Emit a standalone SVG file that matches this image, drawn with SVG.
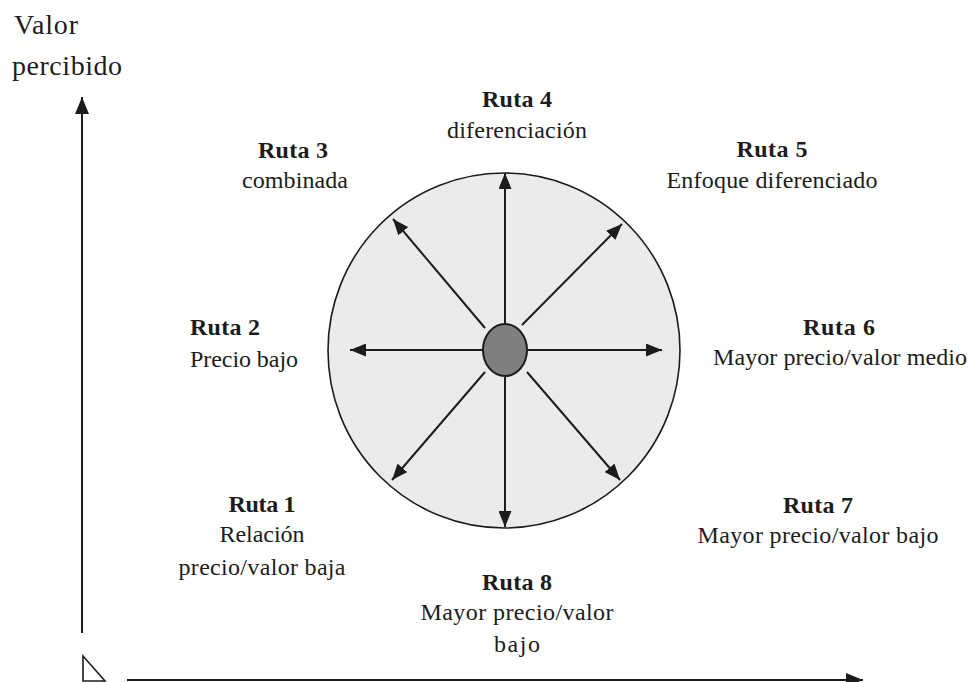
<svg xmlns="http://www.w3.org/2000/svg" width="972" height="682" viewBox="0 0 972 682">
  <style>
    text { font-family: "Liberation Serif", "Times New Roman", "DejaVu Serif", serif; font-size: 24px; fill: #1c1c1c; }
    .axisLabel { font-size: 28px; }
    .title { font-weight: bold; }
    .mid { text-anchor: middle; }
    .ray { stroke: #1c1c1c; stroke-width: 2; fill: none; marker-end: url(#head); }
    .axis { stroke: #1c1c1c; stroke-width: 2; fill: none; }
  </style>
  <defs>
    <marker id="head" markerUnits="userSpaceOnUse" markerWidth="17" markerHeight="13" refX="16" refY="6.5" orient="auto">
      <path d="M0,0 L16,6.5 L0,13 Z" fill="#1c1c1c"/>
    </marker>
    <marker id="axisHead" markerUnits="userSpaceOnUse" markerWidth="18" markerHeight="14" refX="17" refY="7" orient="auto">
      <path d="M0,0 L17,7 L0,14 Z" fill="#1c1c1c"/>
    </marker>
  </defs>

  <rect width="972" height="682" fill="#ffffff"/>

  <!-- axes -->
  <g id="axes">
    <text class="axisLabel" x="14" y="34" textLength="64" lengthAdjust="spacing">Valor</text>
    <text class="axisLabel" x="12" y="75" textLength="110" lengthAdjust="spacing">percibido</text>
    <line class="axis" x1="82" y1="633" x2="82" y2="97" marker-end="url(#axisHead)"/>
    <line class="axis" x1="127" y1="680" x2="863" y2="680" marker-end="url(#axisHead)"/>
    <path d="M83,656 L83,681 L105,681 Z" fill="none" stroke="#1c1c1c" stroke-width="1.6"/>
  </g>

  <!-- central disc -->
  <g id="disc">
    <ellipse cx="504" cy="350.5" rx="176" ry="177.5" fill="#ebebeb" stroke="#1c1c1c" stroke-width="1.6"/>
  </g>

  <!-- routes radiating from the hub -->
  <g id="connectors">
    <line class="ray" x1="505" y1="324" x2="505" y2="173"/>
    <line class="ray" x1="485" y1="328" x2="393" y2="219"/>
    <line class="ray" x1="522" y1="325" x2="622" y2="224"/>
    <line class="ray" x1="483" y1="350" x2="350" y2="350"/>
    <line class="ray" x1="527" y1="350" x2="662" y2="350"/>
    <line class="ray" x1="485" y1="372" x2="392" y2="480"/>
    <line class="ray" x1="527" y1="372" x2="620" y2="480"/>
    <line class="ray" x1="505" y1="376" x2="505" y2="527"/>
  </g>

  <g id="hub">
    <ellipse cx="505" cy="350" rx="22" ry="26" fill="#7f7f7f" stroke="#1c1c1c" stroke-width="2"/>
  </g>

  <!-- route labels -->
  <g id="ruta1">
    <text class="title mid" x="262" y="512" textLength="67" lengthAdjust="spacing">Ruta 1</text>
    <text class="mid" x="262" y="542" textLength="85" lengthAdjust="spacing">Relación</text>
    <text class="mid" x="262" y="575" textLength="167" lengthAdjust="spacing">precio/valor baja</text>
  </g>
  <g id="ruta2">
    <text class="title" x="190" y="335" textLength="70" lengthAdjust="spacing">Ruta 2</text>
    <text x="190" y="367" textLength="108" lengthAdjust="spacing">Precio bajo</text>
  </g>
  <g id="ruta3">
    <text class="title mid" x="293" y="158" textLength="70" lengthAdjust="spacing">Ruta 3</text>
    <text class="mid" x="295" y="188" textLength="106" lengthAdjust="spacing">combinada</text>
  </g>
  <g id="ruta4">
    <text class="title mid" x="517" y="107" textLength="70" lengthAdjust="spacing">Ruta 4</text>
    <text class="mid" x="517" y="138" textLength="140" lengthAdjust="spacing">diferenciación</text>
  </g>
  <g id="ruta5">
    <text class="title mid" x="772" y="157" textLength="71" lengthAdjust="spacing">Ruta 5</text>
    <text class="mid" x="772" y="188" textLength="211" lengthAdjust="spacing">Enfoque diferenciado</text>
  </g>
  <g id="ruta6">
    <text class="title mid" x="839" y="335" textLength="72" lengthAdjust="spacing">Ruta 6</text>
    <text class="mid" x="840" y="365" textLength="254" lengthAdjust="spacing">Mayor precio/valor medio</text>
  </g>
  <g id="ruta7">
    <text class="title mid" x="818" y="513" textLength="70" lengthAdjust="spacing">Ruta 7</text>
    <text class="mid" x="818" y="543" textLength="241" lengthAdjust="spacing">Mayor precio/valor bajo</text>
  </g>
  <g id="ruta8">
    <text class="title mid" x="517" y="590" textLength="70" lengthAdjust="spacing">Ruta 8</text>
    <text class="mid" x="517" y="620" textLength="193" lengthAdjust="spacing">Mayor precio/valor</text>
    <text class="mid" x="517" y="652" textLength="46" lengthAdjust="spacing">bajo</text>
  </g>
</svg>
